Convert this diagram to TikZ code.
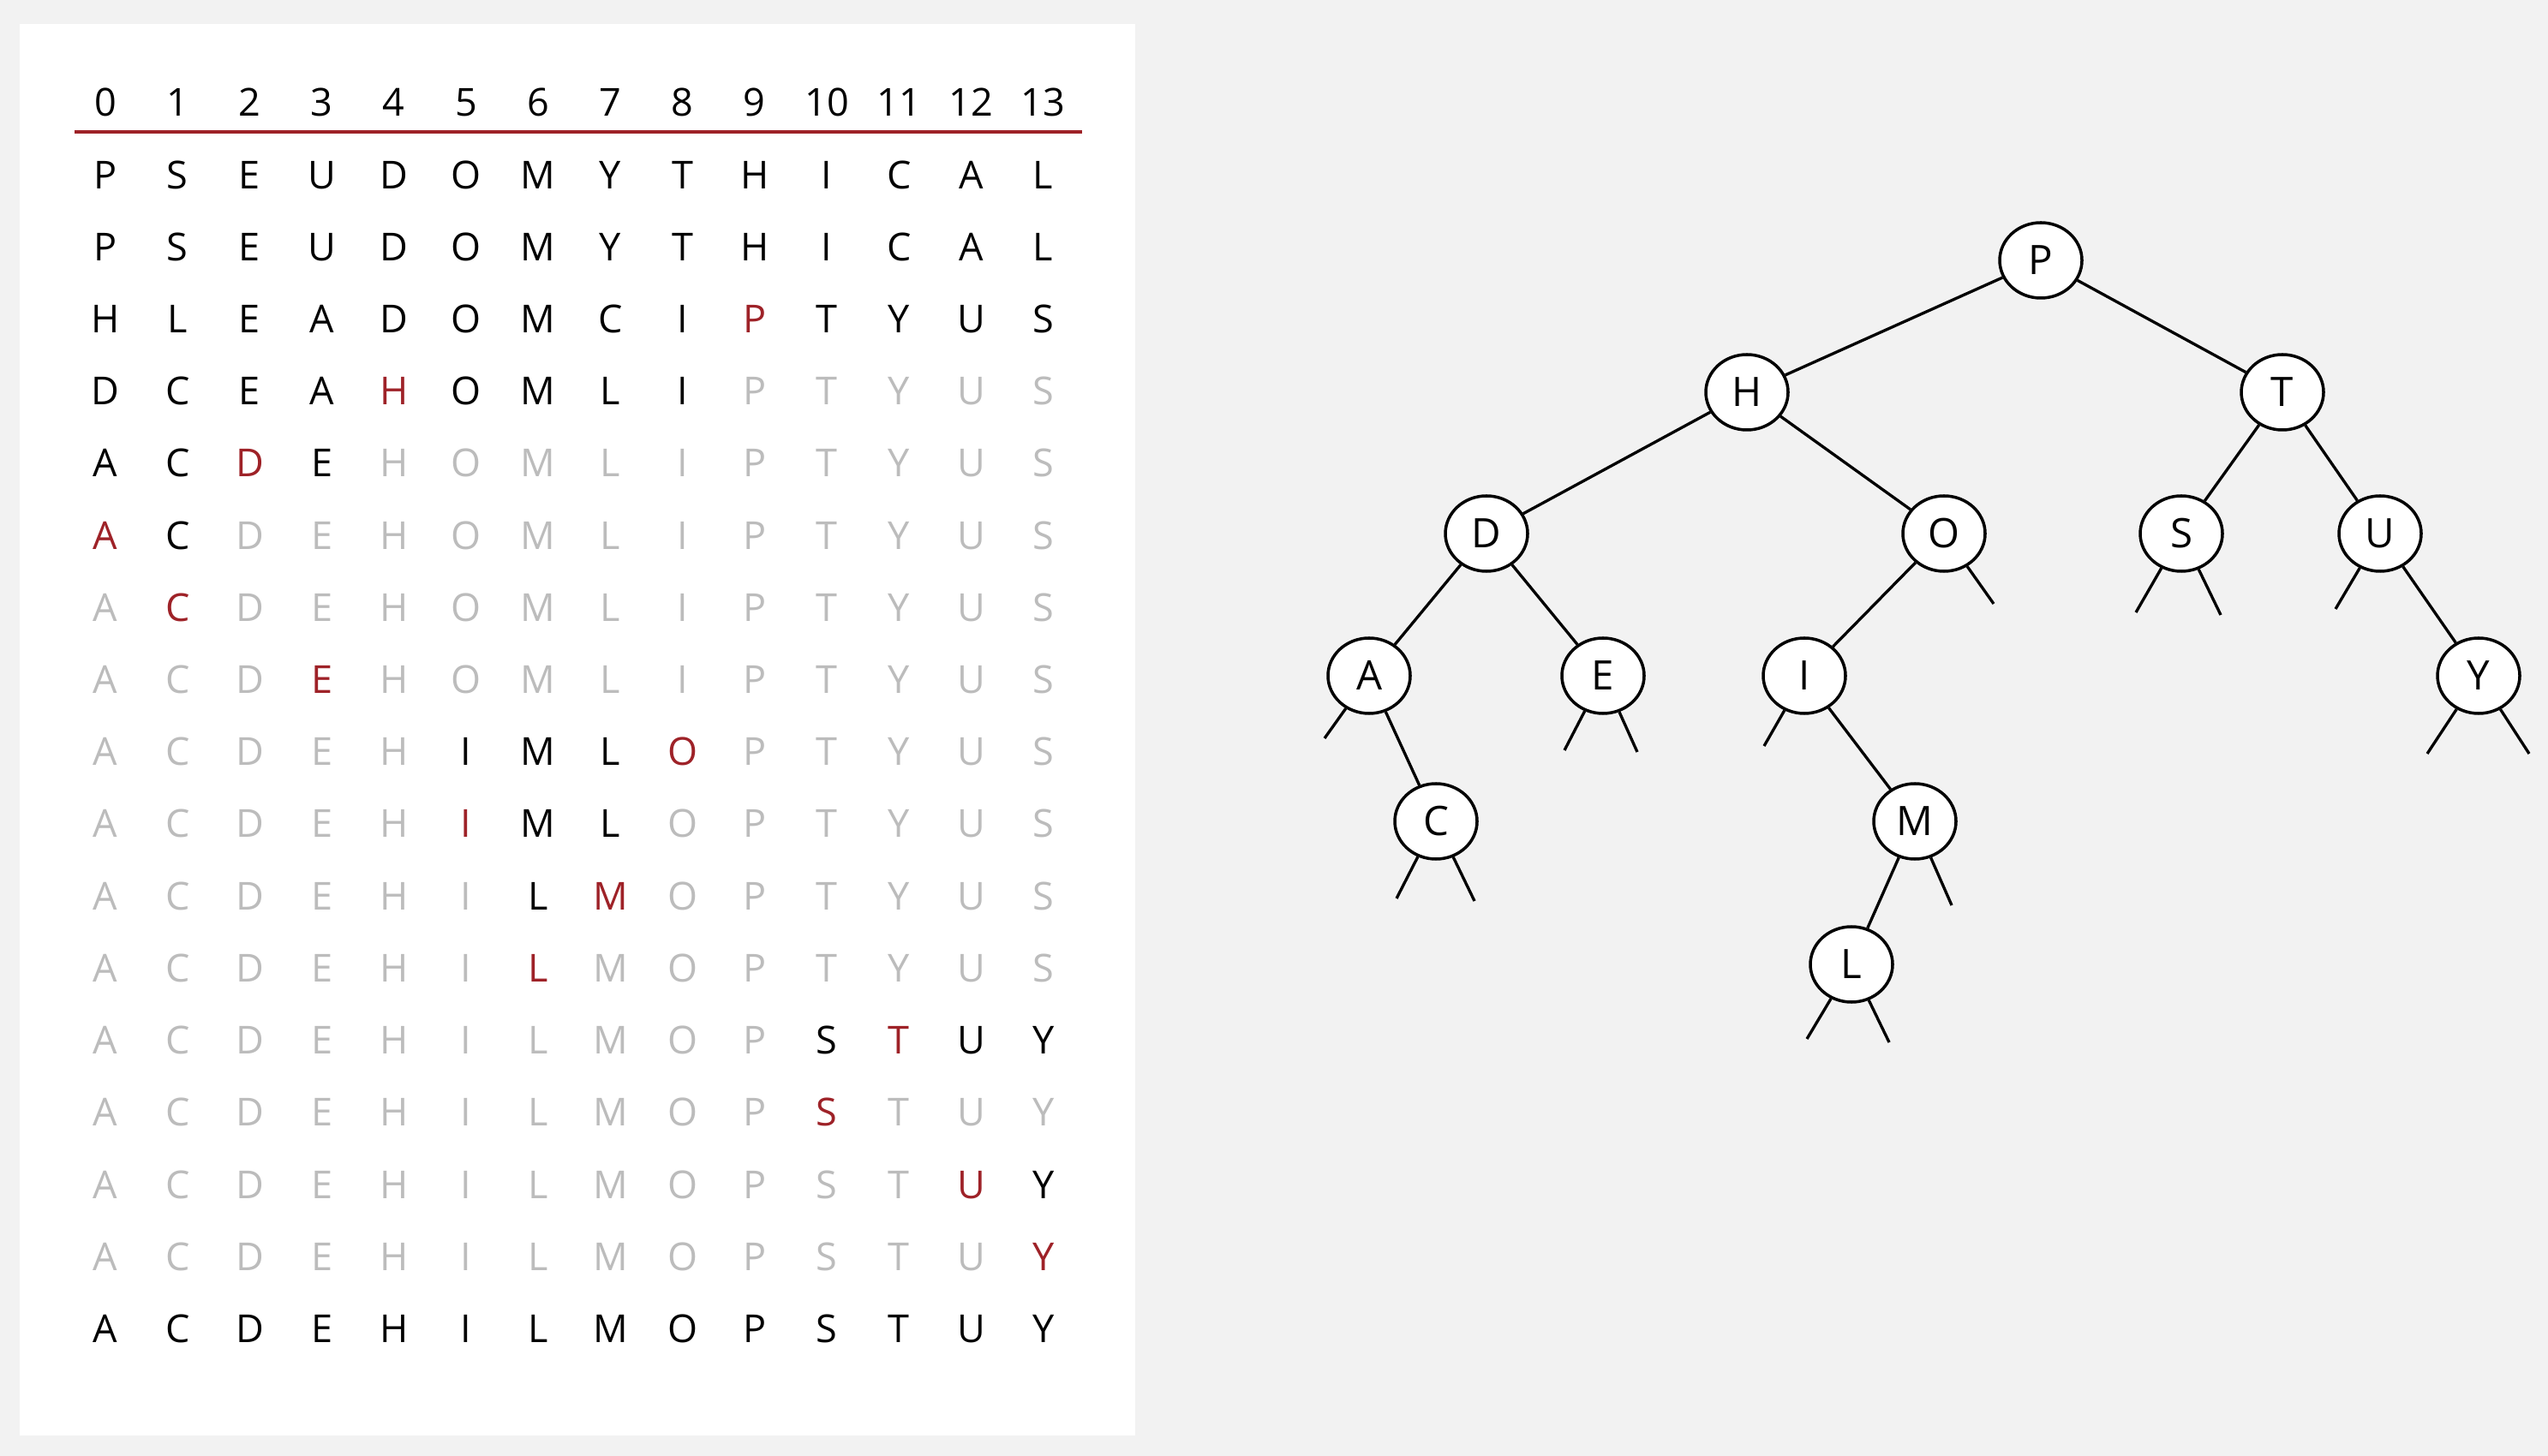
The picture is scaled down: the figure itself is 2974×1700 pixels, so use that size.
\documentclass[tikz,border=0pt]{standalone}
\usepackage{fontspec}
\setmainfont{Open Sans}
\usetikzlibrary{shapes.geometric}

\definecolor{pagegray}{RGB}{242,242,242}
\definecolor{keyred}{RGB}{158,34,40}
\definecolor{donegray}{RGB}{188,188,188}

\tikzset{
    ink/.style={text=black},
    faded/.style={text=donegray},
    pivot/.style={text=keyred},
    bst/.style={ellipse, draw, fill=white, line width=1pt, inner sep=0pt,
        minimum width=9.6mm, minimum height=8.8mm,
        font=\fontsize{13.5}{16}\selectfont},
    link/.style={line width=0.95pt},
}

\begin{document}
\begin{tikzpicture}[x=0.1mm, y=-0.1mm,
        every node/.style={font=\fontsize{12.8}{15}\selectfont}]
    \fill [pagegray] (0,0) rectangle (2974,1700);
    \fill [white] (23,28) rectangle (1325,1676);
    \useasboundingbox (0,0) rectangle (2974,1700);

    % index row and rule
    \foreach \i in {0,...,13}
        \node [anchor=base] (h\i) at (123+84.2*\i, 136) {\i};
    \draw [keyred, line width=0.9pt]
        (87,154) coordinate (rule-l) -- (1263,154) coordinate (rule-r);

    % trace: row / first active / last active / partitioning key / keys
    \foreach \r/\lo/\hi/\red/\keys in {
        1/0/13/-1/{P,S,E,U,D,O,M,Y,T,H,I,C,A,L},
        2/0/13/-1/{P,S,E,U,D,O,M,Y,T,H,I,C,A,L},
        3/0/13/9/{H,L,E,A,D,O,M,C,I,P,T,Y,U,S},
        4/0/8/4/{D,C,E,A,H,O,M,L,I,P,T,Y,U,S},
        5/0/3/2/{A,C,D,E,H,O,M,L,I,P,T,Y,U,S},
        6/0/1/0/{A,C,D,E,H,O,M,L,I,P,T,Y,U,S},
        7/1/1/1/{A,C,D,E,H,O,M,L,I,P,T,Y,U,S},
        8/3/3/3/{A,C,D,E,H,O,M,L,I,P,T,Y,U,S},
        9/5/8/8/{A,C,D,E,H,I,M,L,O,P,T,Y,U,S},
        10/5/7/5/{A,C,D,E,H,I,M,L,O,P,T,Y,U,S},
        11/6/7/7/{A,C,D,E,H,I,L,M,O,P,T,Y,U,S},
        12/6/6/6/{A,C,D,E,H,I,L,M,O,P,T,Y,U,S},
        13/10/13/11/{A,C,D,E,H,I,L,M,O,P,S,T,U,Y},
        14/10/10/10/{A,C,D,E,H,I,L,M,O,P,S,T,U,Y},
        15/12/13/12/{A,C,D,E,H,I,L,M,O,P,S,T,U,Y},
        16/13/13/13/{A,C,D,E,H,I,L,M,O,P,S,T,U,Y},
        17/0/13/-1/{A,C,D,E,H,I,L,M,O,P,S,T,U,Y}}
    {
        \foreach \c [count=\i from 0] in \keys {
            \ifnum\i=\red \def\tone{pivot}%
            \else\ifnum\i<\lo \def\tone{faded}%
            \else\ifnum\i>\hi \def\tone{faded}%
            \else \def\tone{ink}\fi\fi\fi
            \node [\tone, anchor=base] (r\r c\i) at (123+84.2*\i, 136+84.2*\r) {\c};
        }
    }

    % the tree
    \node [bst] (P) at (2382,304) {P};
    \node [bst] (H) at (2039,458) {H};
    \node [bst] (T) at (2664,458) {T};
    \node [bst] (D) at (1735,623) {D};
    \node [bst] (O) at (2269,623) {O};
    \node [bst] (S) at (2546,623) {S};
    \node [bst] (U) at (2778,623) {U};
    \node [bst] (A) at (1598,789) {A};
    \node [bst] (E) at (1871,789) {E};
    \node [bst] (I) at (2106,789) {I};
    \node [bst] (Y) at (2893,789) {Y};
    \node [bst] (C) at (1676,959) {C};
    \node [bst] (M) at (2235,959) {M};
    \node [bst] (L) at (2161,1126) {L};

    \foreach \a/\b in {P/H, P/T, H/D, H/O, T/S, T/U, D/A, D/E,
                       O/I, U/Y, A/C, I/M, M/L}
        \draw [link] (\a) -- (\b);

    % null links
    \foreach \n/\s/\dx/\dy in {A/l/-52/73, C/l/-46/90, C/r/45/93,
            E/l/-45/87, E/r/40/89, O/r/58/82, S/l/-53/92, S/r/46/95,
            U/l/-52/88, I/l/-47/82, Y/l/-60/91, Y/r/59/91, M/r/43/98,
            L/l/-52/87, L/r/44/91}
    {
        \path (\n) ++(\dx,\dy) coordinate (\n-\s);
        \draw [link] (\n) -- (\n-\s);
    }
\end{tikzpicture}
\end{document}
